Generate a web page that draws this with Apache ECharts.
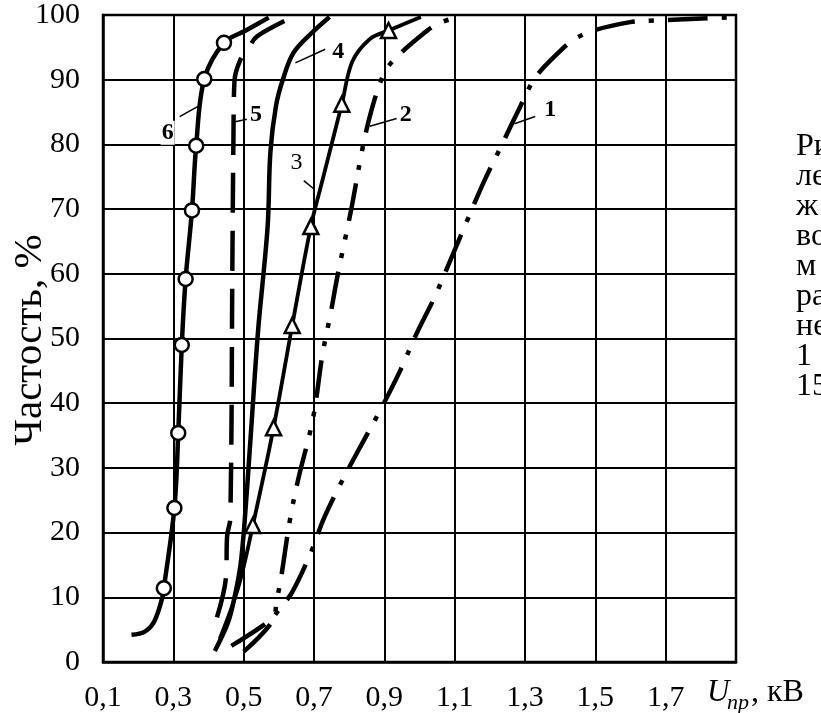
<!DOCTYPE html>
<html>
<head>
<meta charset="utf-8">
<script src="https://cdn.jsdelivr.net/npm/echarts@6/dist/echarts.min.js"></script>
<style>
html, body { margin: 0; background: #fff; }
#chart { width: 821px; height: 713px; }
</style>
</head>
<body>
<div id="chart"></div>
<script>
// кривые распределения пробивного напряжения, точки [U, %]
const curve1 = [[0.465, 2.5], [0.574, 6.4], [0.603, 8.3], [0.638, 10.8], [0.691, 16.9], [0.729, 22.3], [0.779, 27.9],
    [0.832, 33.3], [0.891, 39.2], [0.943, 44.8], [0.993, 50.9], [1.042, 56.3], [1.091, 62.5], [1.136, 68.3],
    [1.182, 74.1], [1.232, 79.7], [1.279, 85], [1.329, 90.3], [1.401, 94.5], [1.442, 96.3], [1.494, 97.6],
    [1.599, 98.9], [1.653, 99.1], [1.821, 99.5], [1.877, 99.6]];
const curve2 = [[0.5, 1.6], [0.582, 6.3], [0.594, 9.5], [0.606, 12.9], [0.632, 22.1], [0.655, 28.2], [0.697, 37.6],
    [0.724, 47.5], [0.747, 53.8], [0.768, 60], [0.806, 70], [0.838, 79.4], [0.862, 85], [0.897, 90.7],
    [0.926, 93], [1.004, 96.8], [1.051, 98.6], [1.109, 99.7]];
const curve3 = [[0.432, 3.6], [0.485, 11.6], [0.526, 21.1], [0.585, 36.2], [0.638, 52], [0.691, 67.3], [0.72, 73.6],
    [0.779, 86.2], [0.809, 92.8], [0.859, 96.3], [0.912, 97.6], [1.004, 99.7]];
const curve3Marks = [[0.526, 21.1], [0.585, 36.2], [0.638, 52], [0.691, 67.3], [0.779, 86.2], [0.912, 97.6]];
const curve4 = [[0.418, 1.7], [0.456, 6.2], [0.474, 10], [0.491, 15], [0.503, 21.9], [0.52, 34.9], [0.541, 51.2],
    [0.568, 67.2], [0.576, 78.8], [0.592, 86], [0.612, 90.1], [0.641, 94.1], [0.691, 97.1], [0.744, 99.7]];
const curve5 = [[0.424, 6.9], [0.45, 13.2], [0.453, 19.5], [0.462, 22.2], [0.468, 62.2], [0.471, 81.3],
    [0.474, 89.9], [0.49, 93], [0.515, 95], [0.538, 96.7], [0.64, 99.7]];
const curve6 = [[0.181, 4.2], [0.219, 4.7], [0.246, 6.3], [0.268, 9.8], [0.273, 11.4], [0.303, 23.8], [0.314, 35.4],
    [0.324, 49], [0.335, 59.2], [0.353, 69.8], [0.365, 79.8], [0.388, 90.1], [0.444, 95.7], [0.506, 97.6],
    [0.571, 99.6]];
const curve6Marks = [[0.273, 11.4], [0.303, 23.8], [0.314, 35.4], [0.324, 49], [0.335, 59.2], [0.353, 69.8],
    [0.365, 79.8], [0.388, 90.1], [0.444, 95.7]];

// номера кривых и выноски (в координатах графика)
const curveTags = [['6', 0.284, 81.8, 'bold'], ['5', 0.535, 84.6, 'bold'], ['4', 0.769, 94.3, 'bold'],
    ['3', 0.65, 77.2, 'normal'], ['2', 0.961, 84.6, 'bold'], ['1', 1.372, 85.3, 'bold']];
const leaders = [[0.318, 84.3, 0.374, 86.0], [0.476, 83.5, 0.509, 83.9], [0.647, 92.6, 0.732, 94.7],
    [0.671, 74.4, 0.70, 73.1], [0.859, 82.8, 0.935, 84], [1.27, 83.2, 1.329, 84.3]];

// обрезанная подпись справа
const captionLines = ['Ри', 'ле', 'ж', 'во', 'м', 'ра', 'не', '1', '15'];

const serif = '"Liberation Serif", "DejaVu Serif", serif';

function curve(data, dash, width) {
    return {
        type: 'line',
        data: data,
        smooth: 0.35,
        symbol: 'none',
        clip: true,
        z: 3,
        lineStyle: { color: '#000', width: width, type: dash, cap: 'butt' }
    };
}

function marks(data, symbol, size) {
    return {
        type: 'scatter',
        data: data,
        symbol: symbol,
        symbolSize: size,
        z: 5,
        itemStyle: { color: '#fff', opacity: 1, borderColor: '#000', borderWidth: 2.5 }
    };
}

let myChart = echarts.init(document.getElementById('chart'));

let option = {
    backgroundColor: '#fff',
    animation: false,
    grid: {
        left: 103, right: 85, top: 15, bottom: 50,
        show: true, borderColor: '#000', borderWidth: 2.5
    },
    xAxis: {
        type: 'value',
        min: 0.1,
        max: 1.9,
        interval: 0.2,
        axisLine: { lineStyle: { color: '#000', width: 2.5 } },
        axisTick: { show: false },
        splitLine: { lineStyle: { color: '#000', width: 2 } },
        axisLabel: {
            color: '#000',
            fontFamily: serif,
            fontSize: 30,
            margin: 21,
            formatter: v => (v > 1.8 ? '' : v.toFixed(1).replace('.', ','))
        }
    },
    yAxis: {
        type: 'value',
        min: 0,
        max: 100,
        interval: 10,
        axisLine: { lineStyle: { color: '#000', width: 2.5 } },
        axisTick: { show: false },
        splitLine: { lineStyle: { color: '#000', width: 2 } },
        axisLabel: { color: '#000', fontFamily: serif, fontSize: 30, margin: 23 }
    },
    series: [
        curve(curve1, [40, 14, 5, 14], 4.5),
        curve(curve2, [38, 14, 5, 14, 5, 14], 4.5),
        curve(curve3, 'solid', 3.8),
        curve(curve4, 'solid', 4.5),
        curve(curve5, [40, 18], 4.5),
        curve(curve6, 'solid', 4.5),
        marks(curve3Marks, 'triangle', 15),
        marks(curve6Marks, 'circle', 14)
    ]
};
myChart.setOption(option);

// подписи: номера кривых, выноски, названия осей и обрезанный текст
let graphics = [];
leaders.forEach(l => {
    let p1 = myChart.convertToPixel({ gridIndex: 0 }, [l[0], l[1]]);
    let p2 = myChart.convertToPixel({ gridIndex: 0 }, [l[2], l[3]]);
    graphics.push({
        type: 'line', z: 10,
        shape: { x1: p1[0], y1: p1[1], x2: p2[0], y2: p2[1] },
        style: { stroke: '#000', lineWidth: 1.5 }
    });
});
curveTags.forEach(t => {
    let p = myChart.convertToPixel({ gridIndex: 0 }, [t[1], t[2]]);
    graphics.push({
        type: 'text', z: 11, x: p[0], y: p[1],
        style: {
            text: t[0], fill: '#000', font: t[3] + ' 24px ' + serif,
            align: 'center', verticalAlign: 'middle',
            backgroundColor: '#fff', padding: [0, 1]
        }
    });
});
graphics.push({
    type: 'text', x: 30, y: 340, rotation: Math.PI / 2,
    style: { text: 'Частость, %', fill: '#000', font: '41px ' + serif, align: 'center', verticalAlign: 'middle' }
});
graphics.push({
    type: 'text', x: 707, y: 693,
    style: { text: 'U', fill: '#000', font: 'italic 31px ' + serif, verticalAlign: 'middle' }
});
graphics.push({
    type: 'text', x: 727, y: 703,
    style: { text: 'пр', fill: '#000', font: 'italic 22px ' + serif, verticalAlign: 'middle' }
});
graphics.push({
    type: 'text', x: 751, y: 693,
    style: { text: ', кВ', fill: '#000', font: '32px ' + serif, verticalAlign: 'middle' }
});
captionLines.forEach((s, i) => {
    graphics.push({
        type: 'text', x: 796, y: 147 + i * 30,
        style: { text: s, fill: '#000', font: '32px ' + serif, verticalAlign: 'middle' }
    });
});
myChart.setOption({ graphic: graphics });
</script>
</body>
</html>
